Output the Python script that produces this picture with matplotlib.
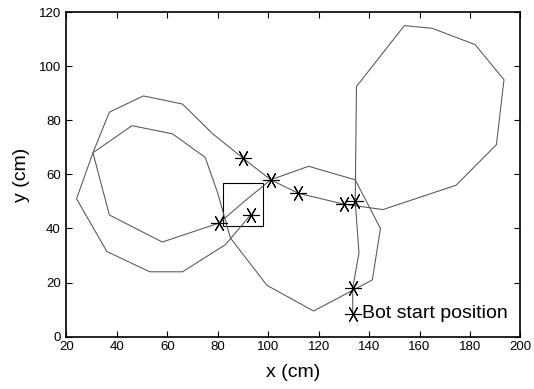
import matplotlib
matplotlib.use("Agg")
import matplotlib.pyplot as plt
from matplotlib.patches import Rectangle

plt.rcParams['font.family'] = ['Liberation Sans', 'DejaVu Sans']

# main bot trajectory: start -> right loop -> big left loop
path_x = [133.5, 133.5, 136.0, 134.5, 135.0, 154.0, 165.0, 182.0, 193.5, 190.5, 174.5, 145.5,
          130.0, 112.0, 101.0, 90.0, 78.0, 66.0, 50.5, 37.0, 30.5, 24.0, 36.0, 53.0, 66.0, 83.0, 93.0]
path_y = [8.5, 18.0, 31.0, 50.0, 92.5, 115.0, 114.0, 108.0, 95.0, 71.0, 56.0, 47.0,
          49.0, 53.0, 58.0, 66.0, 75.0, 86.0, 89.0, 83.0, 68.0, 51.0, 31.5, 24.0, 24.0, 34.0, 45.0]

# second loop through the middle
loop_x = [80.5, 90.5, 101.0, 116.0, 134.5, 144.5, 141.3, 118.0, 99.5, 85.0, 80.0, 75.0,
          62.0, 46.0, 30.5, 37.0, 58.0, 80.5]
loop_y = [42.0, 50.0, 58.0, 63.0, 58.0, 40.0, 21.0, 9.5, 19.0, 36.5, 53.0, 66.3,
          75.0, 78.0, 68.0, 45.0, 35.0, 42.0]

# marked positions
star_x = [133.5, 133.5, 134.5, 130.0, 112.0, 101.0, 90.0, 80.5, 93.0]
star_y = [8.5, 18.0, 50.0, 49.0, 53.0, 58.0, 66.0, 42.0, 45.0]

box_x0, box_y0, box_w, box_h = 82.0, 41.0, 16.0, 16.0

fig = plt.figure(figsize=(5.34, 3.89), dpi=100)
ax = fig.add_axes([0.1245, 0.1344, 0.850, 0.8346])

ax.plot(path_x, path_y, color='#555555', lw=0.75)
ax.plot(loop_x, loop_y, color='#555555', lw=0.75)
ax.plot(star_x, star_y, linestyle='none', marker=(6, 2, 30), color='black',
        markersize=12, markeredgewidth=0.8)
ax.add_patch(Rectangle((box_x0, box_y0), box_w, box_h, fill=False,
                       edgecolor='black', lw=0.8))

ax.text(137.0, 8.5, 'Bot start position', fontsize=14, va='center', ha='left')

ax.set_xlim(20, 200)
ax.set_ylim(0, 120)
ax.set_xticks(range(20, 201, 20))
ax.set_yticks(range(0, 121, 20))
ax.tick_params(direction='in', top=True, right=True, labelsize=9.5,
               length=4, width=0.8)
ax.tick_params(axis='x', pad=3)
ax.tick_params(axis='y', pad=4)
for s in ax.spines.values():
    s.set_linewidth(1.2)
ax.set_xlabel('x (cm)', fontsize=14, labelpad=8)
ax.set_ylabel('y (cm)', fontsize=14, labelpad=6)

fig.savefig('out.png', dpi=100)
